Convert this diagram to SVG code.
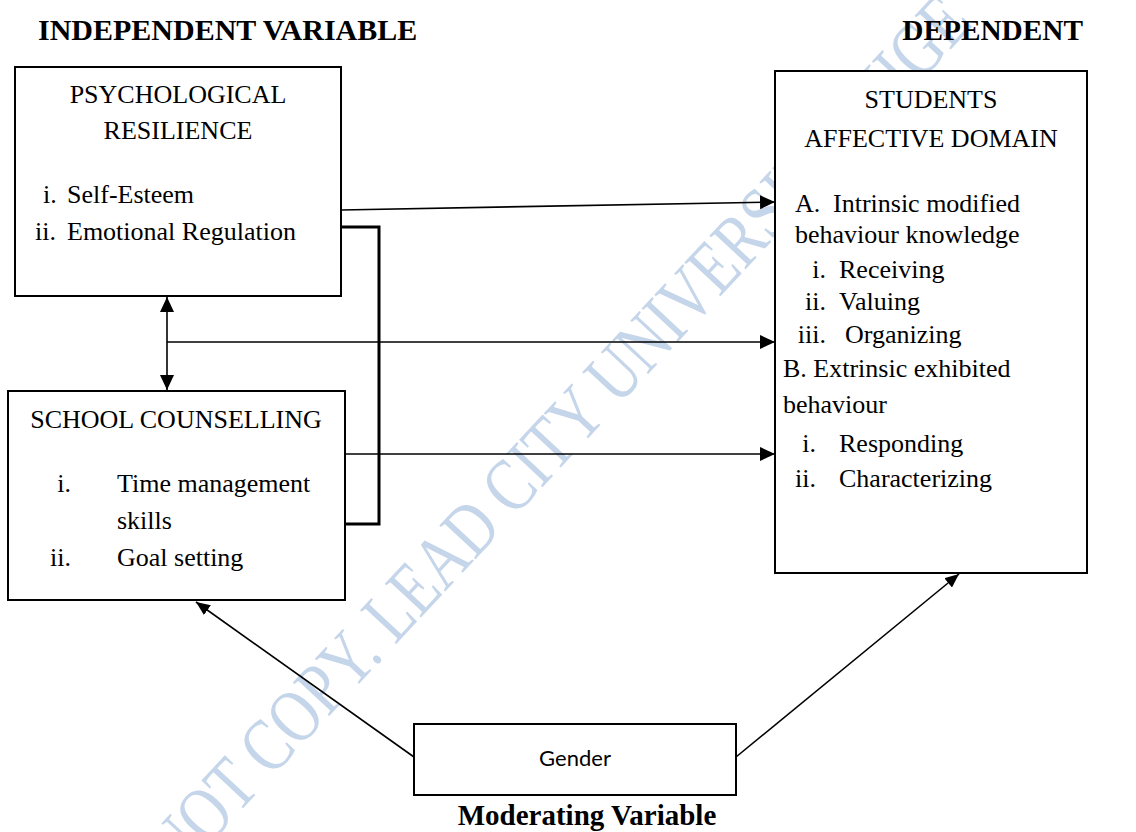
<svg xmlns="http://www.w3.org/2000/svg" width="1136" height="832" viewBox="0 0 1136 832">
<style>
.t{font-family:"Liberation Serif","Times New Roman",serif;font-size:26px;fill:#000}
.h{font-family:"Liberation Serif","Times New Roman",serif;font-size:29px;font-weight:bold;fill:#000}
.box{fill:#fff;stroke:#000;stroke-width:2}
.c{fill:none;stroke:#000;stroke-width:1.6}
.wm{font-family:"Liberation Serif","Times New Roman",serif;font-size:58px;fill:#c5d5ea}
</style>
<defs>
<marker id="ah" markerUnits="userSpaceOnUse" markerWidth="16" markerHeight="14" refX="15" refY="7" orient="auto-start-reverse">
<path d="M0,0 L15,7 L0,14 z" fill="#000"/>
</marker>
<marker id="ahs" markerUnits="userSpaceOnUse" markerWidth="15" markerHeight="12" refX="14" refY="6" orient="auto">
<path d="M0,0 L14,6 L0,12 z" fill="#000"/>
</marker>
</defs>
<rect width="1136" height="832" fill="#fff"/>
<text class="wm" transform="translate(178,878) rotate(-47) scale(1.03,1.3)">NOT COPY. LEAD CITY UNIVERSITY, NIGE</text>

<text class="h" x="38" y="40" style="font-size:30px">INDEPENDENT VARIABLE</text>
<text class="h" x="1083" y="40" text-anchor="end" style="font-size:29.3px">DEPENDENT</text>

<g id="connectors">
<line class="c" x1="341" y1="210" x2="775" y2="202" stroke-width="2" marker-end="url(#ah)"/>
<polyline points="341,227 379,227 379,524 341,524" fill="none" stroke="#000" stroke-width="3"/>
<line class="c" x1="167" y1="297" x2="167" y2="390" stroke-width="2" marker-start="url(#ah)" marker-end="url(#ah)"/>
<line class="c" x1="167" y1="342" x2="775" y2="342" marker-end="url(#ah)"/>
<line class="c" x1="345" y1="454" x2="775" y2="454" marker-end="url(#ah)"/>
<line class="c" x1="414" y1="757" x2="196" y2="602" marker-end="url(#ahs)"/>
<line class="c" x1="736" y1="757" x2="959" y2="574" marker-end="url(#ahs)"/>
</g>

<g id="psychological-resilience">
<rect class="box" x="15" y="67" width="326" height="229"/>
<text class="t" x="178" y="103" text-anchor="middle">PSYCHOLOGICAL</text>
<text class="t" x="178" y="139" text-anchor="middle">RESILIENCE</text>
<text class="t" x="43" y="203">i.</text>
<text class="t" x="67" y="203">Self-Esteem</text>
<text class="t" x="35" y="240">ii.</text>
<text class="t" x="67" y="240">Emotional Regulation</text>
</g>

<g id="school-counselling">
<rect class="box" x="8" y="391" width="337" height="209"/>
<text class="t" x="176" y="428" text-anchor="middle">SCHOOL COUNSELLING</text>
<text class="t" x="71" y="492" text-anchor="end">i.</text>
<text class="t" x="117" y="492">Time management</text>
<text class="t" x="117" y="529">skills</text>
<text class="t" x="71" y="566" text-anchor="end">ii.</text>
<text class="t" x="117" y="566">Goal setting</text>
</g>

<g id="students-affective-domain">
<rect class="box" x="775" y="71" width="312" height="502"/>
<text class="t" x="931" y="108" text-anchor="middle">STUDENTS</text>
<text class="t" x="931" y="147" text-anchor="middle">AFFECTIVE DOMAIN</text>
<text class="t" x="795" y="212">A.</text>
<text class="t" x="833" y="212">Intrinsic modified</text>
<text class="t" x="795" y="243">behaviour knowledge</text>
<text class="t" x="826" y="278" text-anchor="end">i.</text>
<text class="t" x="839" y="278">Receiving</text>
<text class="t" x="826" y="310" text-anchor="end">ii.</text>
<text class="t" x="839" y="310">Valuing</text>
<text class="t" x="826" y="343" text-anchor="end">iii.</text>
<text class="t" x="845" y="343">Organizing</text>
<text class="t" x="783" y="377">B. Extrinsic exhibited</text>
<text class="t" x="783" y="413">behaviour</text>
<text class="t" x="816" y="452" text-anchor="end">i.</text>
<text class="t" x="839" y="452">Responding</text>
<text class="t" x="816" y="487" text-anchor="end">ii.</text>
<text class="t" x="839" y="487">Characterizing</text>
</g>

<g id="gender">
<rect class="box" x="414" y="724" width="322" height="71"/>
<text x="575" y="766" text-anchor="middle" style="font-family:Lato,'Open Sans',sans-serif;font-size:22px;fill:#000">Gender</text>
</g>

<text class="h" x="587" y="825" text-anchor="middle" style="font-size:29px">Moderating Variable</text>
</svg>
